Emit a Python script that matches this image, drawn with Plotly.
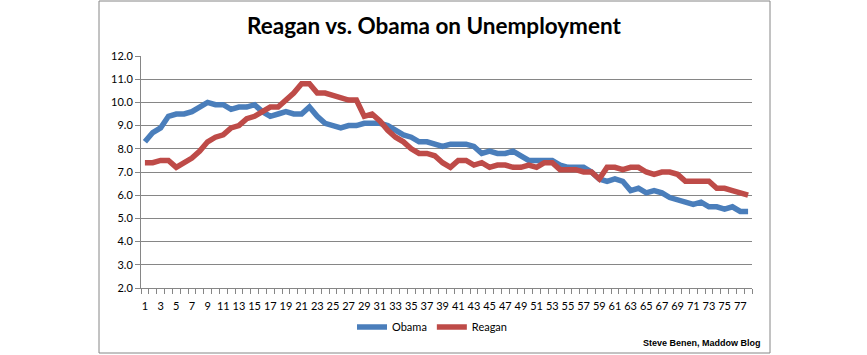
import plotly.graph_objects as go

months = list(range(1, 79))
obama = [8.3, 8.7, 8.9, 9.4, 9.5, 9.5, 9.6, 9.8, 10.0, 9.9, 9.9, 9.7, 9.8, 9.8, 9.9, 9.6,
         9.4, 9.5, 9.6, 9.5, 9.5, 9.8, 9.4, 9.1, 9.0, 8.9, 9.0, 9.0, 9.1, 9.1, 9.1, 9.0,
         8.8, 8.6, 8.5, 8.3, 8.3, 8.2, 8.1, 8.2, 8.2, 8.2, 8.1, 7.8, 7.9, 7.8, 7.8, 7.9,
         7.7, 7.5, 7.5, 7.5, 7.5, 7.3, 7.2, 7.2, 7.2, 7.0, 6.7, 6.6, 6.7, 6.6, 6.2, 6.3,
         6.1, 6.2, 6.1, 5.9, 5.8, 5.7, 5.6, 5.7, 5.5, 5.5, 5.4, 5.5, 5.3, 5.3]
reagan = [7.4, 7.4, 7.5, 7.5, 7.2, 7.4, 7.6, 7.9, 8.3, 8.5, 8.6, 8.9, 9.0, 9.3, 9.4, 9.6,
          9.8, 9.8, 10.1, 10.4, 10.8, 10.8, 10.4, 10.4, 10.3, 10.2, 10.1, 10.1, 9.4, 9.5,
          9.2, 8.8, 8.5, 8.3, 8.0, 7.8, 7.8, 7.7, 7.4, 7.2, 7.5, 7.5, 7.3, 7.4, 7.2, 7.3,
          7.3, 7.2, 7.2, 7.3, 7.2, 7.4, 7.4, 7.1, 7.1, 7.1, 7.0, 7.0, 6.7, 7.2, 7.2, 7.1,
          7.2, 7.2, 7.0, 6.9, 7.0, 7.0, 6.9, 6.6, 6.6, 6.6, 6.6, 6.3, 6.3, 6.2, 6.1, 6.0]
x_ticks = list(range(1, 79, 2))
y_ticks = [2.0 + i for i in range(11)]

FONT = "Lato, Calibri, Arial, sans-serif"
GRID = "#868686"

fig = go.Figure()
fig.add_trace(go.Scatter(x=months, y=obama, name="Obama", mode="lines",
                         line=dict(color="#4A7EBB", width=5.5)))
fig.add_trace(go.Scatter(x=months, y=reagan, name="Reagan", mode="lines",
                         line=dict(color="#BE4B48", width=5.5)))

W, H = 867, 355
L, R, T, B = 141, 752, 56, 288
pw, ph = R - L, B - T

def px(x):
    return (x - L) / pw

def py(y):
    return (B - y) / ph

fig.update_layout(
    width=W, height=H,
    margin=dict(l=L, r=W - R, t=T, b=H - B, pad=0, autoexpand=False),
    paper_bgcolor="white", plot_bgcolor="white",
    font=dict(family=FONT, size=11, color="#000000"),
    title=dict(text="<b>Reagan vs. Obama on Unemployment</b>",
               font=dict(family=FONT, size=22.5, color="#000000"),
               x=434 / W, xanchor="center", y=1 - 26 / H, yanchor="middle"),
    showlegend=True,
    legend=dict(orientation="h", xref="container", yref="container",
                x=432 / W, xanchor="center", y=1 - 327 / H, yanchor="middle",
                font=dict(family=FONT, size=11), itemwidth=30,
                bgcolor="rgba(0,0,0,0)"),
    xaxis=dict(range=[0.5, 78.5], tickmode="array", tickvals=x_ticks, automargin=False,
               ticktext=[str(v) for v in x_ticks], ticks="", showgrid=False,
               showline=True, linecolor=GRID, linewidth=1, zeroline=False,
               tickfont=dict(family=FONT, size=11), tickangle=0, ticklabelstandoff=8,
               minor=dict(tickmode="linear", tick0=0.5, dtick=1, ticks="outside",
                          ticklen=5, tickcolor=GRID, showgrid=False)),
    yaxis=dict(range=[2, 12], tickmode="array", tickvals=y_ticks, automargin=False,
               ticktext=[f"{v:.1f}" for v in y_ticks], ticks="outside", ticklen=5,
               tickcolor=GRID, showgrid=True, gridcolor=GRID, gridwidth=1,
               showline=True, linecolor=GRID, linewidth=1, zeroline=False,
               tickfont=dict(family=FONT, size=11)),
    annotations=[dict(text="<b>Steve Benen, Maddow Blog</b>", xref="paper", yref="paper",
                      x=px(763), y=py(343), xanchor="right", yanchor="middle",
                      showarrow=False,
                      font=dict(family="Liberation Sans Narrow, Arial Narrow, Arial", size=9,
                                color="#000000"))],
    shapes=[dict(type="rect", xref="paper", yref="paper",
                 x0=px(99), x1=px(770), y0=py(353), y1=py(1),
                 line=dict(color=GRID, width=1), fillcolor="rgba(0,0,0,0)", layer="below")],
)

fig.write_html("out.html", config={"displayModeBar": False},
               post_script="document.body.style.margin='0';")
